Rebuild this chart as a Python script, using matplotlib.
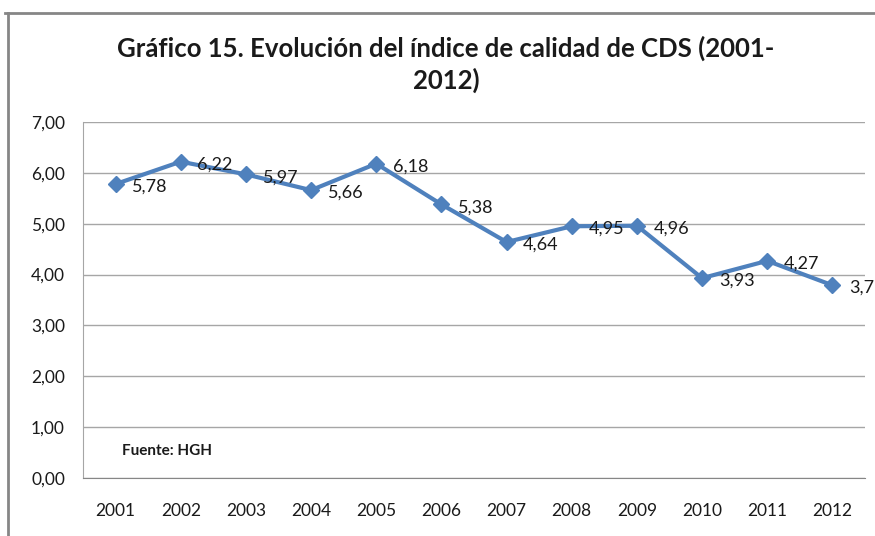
import matplotlib
matplotlib.use("Agg")
import matplotlib.pyplot as plt
from matplotlib.lines import Line2D

years = ["2001", "2002", "2003", "2004", "2005", "2006", "2007", "2008", "2009", "2010", "2011", "2012"]
values = [5.78, 6.22, 5.97, 5.66, 6.18, 5.38, 4.64, 4.95, 4.96, 3.93, 4.27, 3.79]
yticks = [0, 1, 2, 3, 4, 5, 6, 7]
title = "Gráfico 15. Evolución del índice de calidad de CDS (2001-\n2012)"
source = "Fuente: HGH"

plt.rcParams['font.family'] = ['Lato', 'DejaVu Sans']

W, H = 875, 536
fig = plt.figure(figsize=(W / 100, H / 100), dpi=100)
ax = fig.add_axes([83 / W, 1 - 478 / H, (865 - 83) / W, (478 - 122) / H])

x = list(range(len(years)))
ax.plot(x, values, color="#4F81BD", lw=3, marker="D", ms=8, mfc="#4F81BD", mec="#4F81BD", zorder=3, clip_on=False)
for xi, v in zip(x, values):
    ax.annotate(f"{v:.2f}".replace(".", ","), (xi, v), xytext=(12, -2), textcoords="offset points",
                ha="left", va="center", fontsize=13, color="#1a1a1a", annotation_clip=False)

ax.set_xlim(-0.5, len(years) - 0.5)
ax.set_ylim(0, 7)
ax.set_yticks(yticks)
ax.set_yticklabels([f"{t:.2f}".replace(".", ",") for t in yticks])
ax.set_xticks(x)
ax.set_xticklabels(years)
ax.tick_params(axis="both", length=0, labelsize=12.5, colors="#1a1a1a")
ax.tick_params(axis="x", pad=18)
ax.tick_params(axis="y", pad=13)
ax.grid(axis="y", color="#a6a6a6", lw=1)
ax.set_axisbelow(True)
for s in ["top", "right"]:
    ax.spines[s].set_visible(False)
ax.spines["left"].set_color("#a6a6a6")
ax.spines["bottom"].set_color("#868686")

ax.text(0.05, 0.075, source, transform=ax.transAxes, fontsize=11, fontweight="bold", color="#1a1a1a",
        ha="left", va="center")

fig.text(446 / W, 1 - 64.5 / H, title, ha="center", va="center", fontsize=18.5, fontweight="bold",
         color="#1a1a1a", linespacing=1.3)

fig.add_artist(Line2D([5 / W, 1], [1 - 13 / H, 1 - 13 / H], color="#868686", lw=2, transform=fig.transFigure))
fig.add_artist(Line2D([8 / W, 8 / W], [1 - 13 / H, 0], color="#868686", lw=2, transform=fig.transFigure))

fig.savefig("out.png", dpi=100)
